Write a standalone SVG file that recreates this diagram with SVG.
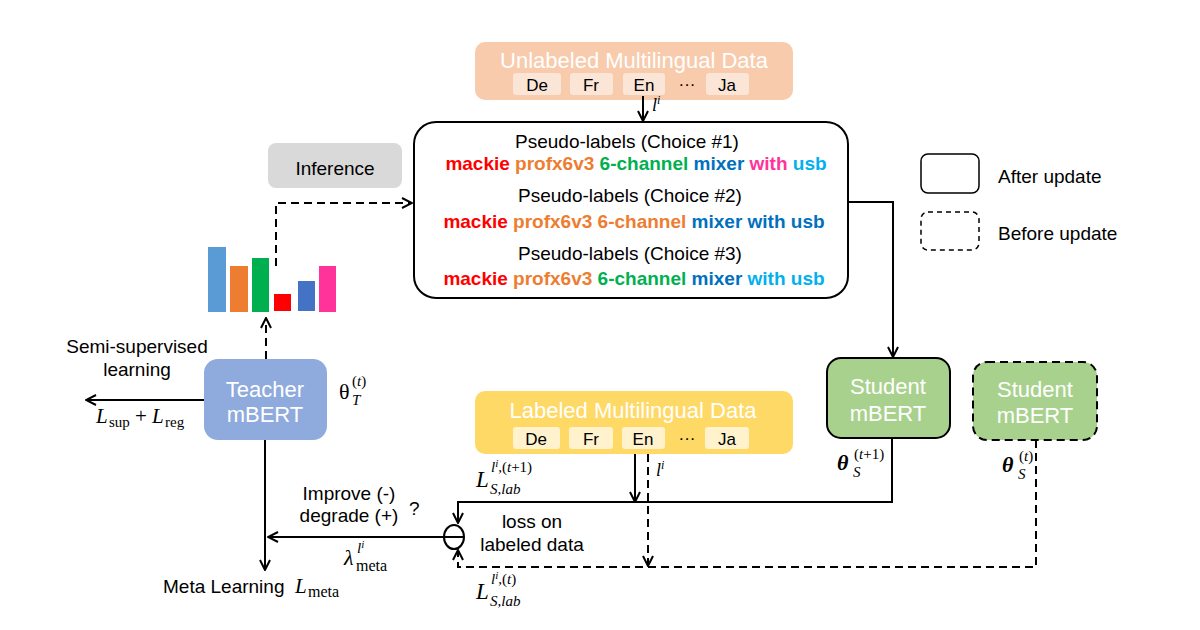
<svg xmlns="http://www.w3.org/2000/svg" width="1200" height="630" viewBox="0 0 1200 630">
<defs>
<marker id="arr" viewBox="0 0 12 12" refX="11" refY="6" markerWidth="12" markerHeight="12" markerUnits="userSpaceOnUse" orient="auto">
<path d="M1,1 L11,6 L1,11" fill="none" stroke="#000" stroke-width="2"/>
</marker>
<style>
.t{font-family:"Liberation Sans",Arial,sans-serif;font-size:19px;fill:#000}
.w{font-family:"Liberation Sans",Arial,sans-serif;fill:#fff}
.chip{font-family:"Liberation Sans",Arial,sans-serif;font-size:17px;fill:#000;text-anchor:middle}
.b{font-family:"Liberation Sans",Arial,sans-serif;font-size:19px;font-weight:bold}
.m{font-family:"Liberation Serif","DejaVu Serif",serif;font-style:italic;fill:#000}
.r{font-family:"Liberation Serif","DejaVu Serif",serif;fill:#000}
.c{fill:none;stroke:#000;stroke-width:2}
.d{fill:none;stroke:#000;stroke-width:2;stroke-dasharray:8,5}
</style>
</defs>
<rect width="1200" height="630" fill="#fff"/>

<g id="unlabeled">
<rect x="475" y="42" width="318" height="58" rx="10" fill="#F8CBAD"/>
<text class="w" x="634" y="68" font-size="22" text-anchor="middle">Unlabeled Multilingual Data</text>
<rect x="513" y="73" width="48" height="22" rx="3" fill="#FBE5D6"/>
<rect x="570" y="73" width="43" height="22" rx="3" fill="#FBE5D6"/>
<rect x="623" y="73" width="42" height="22" rx="3" fill="#FBE5D6"/>
<rect x="706" y="73" width="43" height="22" rx="3" fill="#FBE5D6"/>
<text class="chip" x="537" y="91">De</text>
<text class="chip" x="591" y="91">Fr</text>
<text class="chip" x="644" y="91">En</text>
<text class="chip" x="687" y="90">···</text>
<text class="chip" x="727" y="91">Ja</text>
</g>

<g id="pseudo">
<rect x="414" y="122" width="434" height="176" rx="22" fill="#fff" stroke="#000" stroke-width="2"/>
<text class="t" x="627" y="148" text-anchor="middle">Pseudo-labels (Choice #1)</text>
<text class="b" x="636" y="170" text-anchor="middle"><tspan fill="#FF0000">mackie</tspan> <tspan fill="#ED7D31">profx6v3</tspan> <tspan fill="#00B050">6-channel</tspan> <tspan fill="#0070C0">mixer</tspan> <tspan fill="#FF3399">with</tspan> <tspan fill="#00B0F0">usb</tspan></text>
<text class="t" x="630" y="202" text-anchor="middle">Pseudo-labels (Choice #2)</text>
<text class="b" x="634" y="228" text-anchor="middle"><tspan fill="#FF0000">mackie</tspan> <tspan fill="#ED7D31">profx6v3</tspan> <tspan fill="#ED7D31">6-channel</tspan> <tspan fill="#0070C0">mixer</tspan> <tspan fill="#0070C0">with</tspan> <tspan fill="#0070C0">usb</tspan></text>
<text class="t" x="630" y="260" text-anchor="middle">Pseudo-labels (Choice #3)</text>
<text class="b" x="634" y="285" text-anchor="middle"><tspan fill="#FF0000">mackie</tspan> <tspan fill="#ED7D31">profx6v3</tspan> <tspan fill="#00B050">6-channel</tspan> <tspan fill="#0070C0">mixer</tspan> <tspan fill="#00B0F0">with</tspan> <tspan fill="#00B0F0">usb</tspan></text>
</g>

<g id="inference">
<rect x="268" y="143" width="134" height="45" rx="8" fill="#D9D9D9"/>
<text class="t" x="335" y="175" font-size="23" text-anchor="middle">Inference</text>
</g>

<g id="bars">
<rect x="208" y="247" width="18" height="65" fill="#5B9BD5"/>
<rect x="230" y="266" width="18" height="46" fill="#ED7D31"/>
<rect x="252" y="258" width="17" height="54" fill="#00B050"/>
<rect x="274" y="294" width="17" height="17" fill="#FF0000"/>
<rect x="298" y="281" width="17" height="30" fill="#4472C4"/>
<rect x="319" y="266" width="17" height="46" fill="#FF3399"/>
</g>

<g id="legend">
<rect x="921" y="154" width="58" height="39" rx="7" fill="none" stroke="#000" stroke-width="1.5"/>
<text class="t" x="998" y="183">After update</text>
<rect x="921" y="212" width="58" height="38" rx="7" fill="none" stroke="#000" stroke-width="1.5" stroke-dasharray="5,4"/>
<text class="t" x="998" y="240">Before update</text>
</g>

<g id="semi">
<text class="t" x="137" y="353" text-anchor="middle">Semi-supervised</text>
<text class="t" x="137" y="376" text-anchor="middle">learning</text>
<text class="m" x="96" y="423" font-size="21">L</text>
<text class="r" x="109" y="427" font-size="15">sup</text>
<text class="r" x="135" y="423" font-size="21">+</text>
<text class="m" x="152" y="423" font-size="21">L</text>
<text class="r" x="165" y="427" font-size="15">reg</text>
</g>

<g id="teacher">
<rect x="204" y="359" width="123" height="81" rx="14" fill="#8FAADC"/>
<text class="w" x="265" y="397" font-size="22" text-anchor="middle">Teacher</text>
<text class="w" x="265" y="422" font-size="22" text-anchor="middle">mBERT</text>
<text class="r" x="339" y="399" font-size="22">θ</text>
<text class="m" x="352" y="405" font-size="15">T</text>
<text class="r" x="352" y="386" font-size="15">(<tspan font-style="italic">t</tspan>)</text>
</g>

<g id="student1">
<rect x="827" y="358" width="123" height="80" rx="14" fill="#A9D18E" stroke="#000" stroke-width="2"/>
<text class="w" x="888" y="394" font-size="22" text-anchor="middle">Student</text>
<text class="w" x="888" y="421" font-size="22" text-anchor="middle">mBERT</text>
<text class="m" x="837" y="470" font-size="22" font-weight="bold">θ</text>
<text class="m" x="853" y="477" font-size="15">S</text>
<text class="r" x="854" y="459" font-size="15">(<tspan font-style="italic">t</tspan>+1)</text>
</g>

<g id="student2">
<rect x="973" y="362" width="124" height="78" rx="14" fill="#A9D18E" stroke="#000" stroke-width="2" stroke-dasharray="8,5"/>
<text class="w" x="1035" y="397" font-size="22" text-anchor="middle">Student</text>
<text class="w" x="1035" y="423" font-size="22" text-anchor="middle">mBERT</text>
<text class="m" x="1002" y="472" font-size="22" font-weight="bold">θ</text>
<text class="m" x="1018" y="479" font-size="15">S</text>
<text class="r" x="1019" y="461" font-size="15">(<tspan font-style="italic">t</tspan>)</text>
</g>

<g id="labeled">
<rect x="475" y="391" width="318" height="63" rx="10" fill="#FFD966"/>
<text class="w" x="633" y="418" font-size="22" text-anchor="middle">Labeled Multilingual Data</text>
<rect x="513" y="427" width="47" height="22" rx="3" fill="#FFF2CC"/>
<rect x="569" y="427" width="44" height="22" rx="3" fill="#FFF2CC"/>
<rect x="622" y="427" width="43" height="22" rx="3" fill="#FFF2CC"/>
<rect x="705" y="427" width="44" height="22" rx="3" fill="#FFF2CC"/>
<text class="chip" x="536" y="445">De</text>
<text class="chip" x="591" y="445">Fr</text>
<text class="chip" x="643" y="445">En</text>
<text class="chip" x="687" y="444">···</text>
<text class="chip" x="727" y="445">Ja</text>
</g>

<g id="loss">
<ellipse cx="454" cy="537" rx="10" ry="12" fill="#fff" stroke="#000" stroke-width="2"/>
<line x1="444" y1="537" x2="464" y2="537" stroke="#000" stroke-width="2"/>
<text class="t" x="532" y="528" text-anchor="middle">loss on</text>
<text class="t" x="532" y="551" text-anchor="middle">labeled data</text>
<text class="m" x="476" y="487" font-size="23">L</text>
<text class="m" x="490" y="494" font-size="15">S,lab</text>
<text class="m" x="491" y="472" font-size="15">l<tspan font-size="11" dy="-5">i</tspan><tspan dy="5">,</tspan><tspan font-style="normal">(</tspan>t<tspan font-style="normal">+1)</tspan></text>
<text class="m" x="476" y="599" font-size="23">L</text>
<text class="m" x="490" y="606" font-size="15">S,lab</text>
<text class="m" x="491" y="584" font-size="15">l<tspan font-size="11" dy="-5">i</tspan><tspan dy="5">,</tspan><tspan font-style="normal">(</tspan>t<tspan font-style="normal">)</tspan></text>
</g>

<g id="meta">
<text class="t" x="349" y="500" text-anchor="middle">Improve (-)</text>
<text class="t" x="349" y="522" text-anchor="middle">degrade (+)</text>
<text class="t" x="409" y="515" font-size="17">?</text>
<text class="m" x="344" y="565" font-size="22">λ</text>
<text class="r" x="356" y="571" font-size="16">meta</text>
<text class="m" x="357" y="553" font-size="15">l<tspan font-size="11" dy="-5">i</tspan></text>
<text class="t" x="163" y="593">Meta Learning</text>
<text class="m" x="295" y="593" font-size="21">L</text>
<text class="r" x="308" y="597" font-size="16">meta</text>
</g>

<g id="connectors">
<path class="c" d="M643,96 V121" marker-end="url(#arr)"/>
<text class="m" x="652" y="111" font-size="18">l<tspan font-size="12" dy="-7">i</tspan></text>
<path class="c" d="M848,202 H893 V357" marker-end="url(#arr)"/>
<path class="d" d="M276,266 V203 H412" marker-end="url(#arr)"/>
<path class="d" d="M266,359 V318" marker-end="url(#arr)"/>
<path class="c" d="M204,400 H86" marker-end="url(#arr)"/>
<path class="c" d="M265,440 V570" marker-end="url(#arr)"/>
<path class="c" d="M892,438 V502 H458 V523" marker-end="url(#arr)"/>
<path class="c" d="M635,454 V502" marker-end="url(#arr)"/>
<path class="d" d="M648,454 V566" marker-end="url(#arr)"/>
<text class="m" x="656" y="476" font-size="18">l<tspan font-size="12" dy="-7">i</tspan></text>
<path class="d" d="M1036,440 V567 H458 V550" marker-end="url(#arr)"/>
<path class="c" d="M444,537 H268" marker-end="url(#arr)"/>
</g>
</svg>
